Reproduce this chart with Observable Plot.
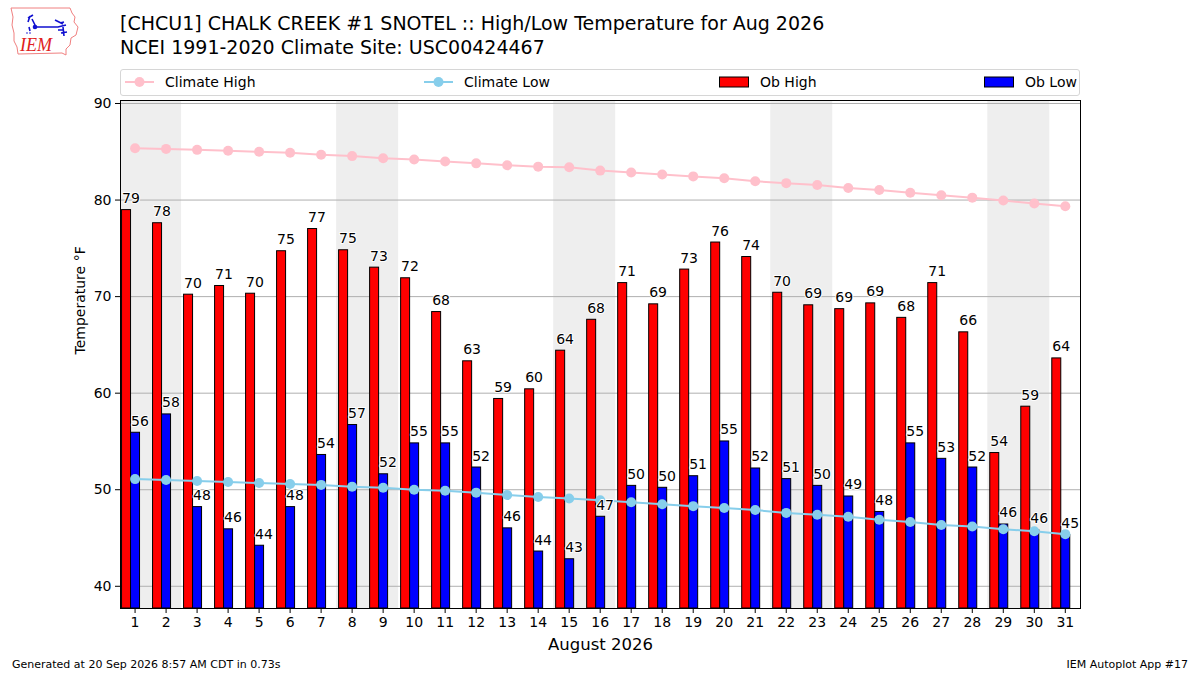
<!DOCTYPE html>
<html>
<head>
<meta charset="utf-8">
<script src="https://cdn.jsdelivr.net/npm/d3@7"></script>
<script src="https://cdn.jsdelivr.net/npm/@observablehq/plot@0.6"></script>
<style>
  html, body { margin:0; padding:0; background:#fff; }
  body { width:1200px; height:675px; position:relative; overflow:hidden; font-family:"DejaVu Sans", sans-serif; color:#000; }
  .abs { position:absolute; white-space:nowrap; }
  #title { left:120px; top:11px; font-size:19px; line-height:24px; }
  #legend { left:120px; top:69px; width:958px; height:25px; border:1px solid #d6d6d6; border-radius:3px; }
  .li { position:absolute; top:-1px; height:25px; display:flex; align-items:center; font-size:14px; }
  .li svg { margin-right:11px; }
  #chart { left:0; top:96px; }
  #foot1 { left:12px; top:658px; font-size:11px; }
  #foot2 { right:12px; top:658px; font-size:11px; }
</style>
</head>
<body>
<div class="abs" style="left:8px;top:5px;">
  <svg width="74" height="54" viewBox="0 0 74 54">
    <path d="M3,3 L62,3 L64,8 L67,12 L66,17 L70,22 L68,30 L63,33 L62,40 L58,44 L58,50 L54,48 L10,49 L9,42 L6,36 L6,28 L4,20 L5,12 Z" fill="none" stroke="#f08080" stroke-width="1"/>
    <path d="M22,11 L20,17 M20,13 L25,10 M24,14 L28,22 L50,22 L58,20 M52,18 L56,17 M47,15 L55,19 M50,25 L56,25 M55,22 L56,31 M53,28 L59,27 M21,22 L22,26" stroke="#1010d0" stroke-width="1.6" fill="none"/>
    <circle cx="27" cy="22" r="2.3" fill="#1010d0"/>
    <circle cx="19" cy="28" r="0.8" fill="#1010d0"/><circle cx="22" cy="28" r="0.8" fill="#1010d0"/>
    <text x="12" y="46" font-family="Liberation Serif, serif" font-style="italic" font-size="18" fill="#e02020">IEM</text>
  </svg>
</div>
<div id="title" class="abs">[CHCU1] CHALK CREEK #1 SNOTEL :: High/Low Temperature for Aug 2026<br>NCEI 1991-2020 Climate Site: USC00424467</div>
<div id="legend" class="abs">
  <div class="li" style="left:4px;"><svg width="29" height="12"><line x1="0" y1="6" x2="29" y2="6" stroke="pink" stroke-width="2"/><circle cx="14.5" cy="6" r="5" fill="pink"/></svg>Climate High</div>
  <div class="li" style="left:303px;"><svg width="29" height="12"><line x1="0" y1="6" x2="29" y2="6" stroke="skyblue" stroke-width="2"/><circle cx="14.5" cy="6" r="5" fill="skyblue"/></svg>Climate Low</div>
  <div class="li" style="left:598px;"><svg width="30" height="12"><rect x="0.5" y="1" width="29" height="10" fill="red" stroke="black" stroke-width="1"/></svg>Ob High</div>
  <div class="li" style="left:863px;"><svg width="30" height="12"><rect x="0.5" y="1" width="29" height="10" fill="blue" stroke="black" stroke-width="1"/></svg>Ob Low</div>
</div>
<div id="chart" class="abs"></div>
<div id="foot1" class="abs">Generated at 20 Sep 2026 8:57 AM CDT in 0.73s</div>
<div id="foot2" class="abs">IEM Autoplot App #17</div>
<script>
const days = d3.range(1, 32);
const obHigh = [78.96, 77.6, 70.2, 71.1, 70.3, 74.7, 77.0, 74.8, 73.0, 71.9, 68.4, 63.3, 59.4, 60.4, 64.4, 67.6, 71.4, 69.2, 72.8, 75.6, 74.1, 70.4, 69.1, 68.7, 69.3, 67.8, 71.4, 66.3, 53.8, 58.6, 63.6];
const obLow = [55.9, 57.8, 48.2, 45.9, 44.2, 48.2, 53.6, 56.7, 51.6, 54.8, 54.8, 52.3, 46.0, 43.6, 42.8, 47.2, 50.4, 50.2, 51.4, 55.0, 52.2, 51.1, 50.4, 49.3, 47.7, 54.8, 53.2, 52.3, 46.4, 45.8, 45.3];
const climHigh = [85.37, 85.3, 85.2, 85.1, 85.0, 84.9, 84.7, 84.55, 84.33, 84.2, 84.0, 83.8, 83.6, 83.46, 83.4, 83.05, 82.85, 82.65, 82.45, 82.25, 81.95, 81.75, 81.55, 81.25, 81.05, 80.75, 80.5, 80.25, 79.95, 79.65, 79.35];
const climLow = [51.1, 51.0, 50.9, 50.8, 50.7, 50.6, 50.5, 50.3, 50.2, 50.0, 49.9, 49.7, 49.45, 49.25, 49.1, 48.9, 48.7, 48.5, 48.3, 48.1, 47.9, 47.6, 47.4, 47.2, 46.9, 46.65, 46.35, 46.2, 45.9, 45.7, 45.4];
const weekendStarts = [1, 8, 15, 22, 29];
const yTicks = [40, 50, 60, 70, 80, 90];
const xLabel = "August 2026";
const yLabel = "Temperature °F";

const yMin = 37.7, yMax = 90.31;
const highs = days.map((d, i) => ({day: d, v: obHigh[i]}));
const lows = days.map((d, i) => ({day: d, v: obLow[i]}));
const cHigh = days.map((d, i) => ({day: d, v: climHigh[i]}));
const cLow = days.map((d, i) => ({day: d, v: climLow[i]}));

const chart = Plot.plot({
  width: 1200,
  height: 560,
  marginLeft: 120,
  marginRight: 120,
  marginTop: 4,
  marginBottom: 48,
  x: {domain: [0.53, 31.49]},
  y: {domain: [yMin, yMax]},
  style: {fontFamily: "DejaVu Sans, sans-serif", fontSize: "14px", color: "#000", background: "#fff"},
  marks: [
    Plot.rect(weekendStarts, {x1: d => d - 0.5, x2: d => d + 1.5, y1: yMin, y2: yMax, fill: "#eeeeee", clip: true}),
    Plot.gridY(yTicks, {stroke: "#b0b0b0", strokeOpacity: 1, strokeWidth: 1}),
    Plot.rect(highs, {x1: d => d.day - 0.42, x2: d => d.day - 0.13, y1: yMin, y2: "v", fill: "red", stroke: "black", strokeWidth: 1, clip: true}),
    Plot.rect(lows, {x1: d => d.day - 0.13, x2: d => d.day + 0.16, y1: yMin, y2: "v", fill: "blue", stroke: "black", strokeWidth: 1, clip: true}),
    Plot.line(cHigh, {x: "day", y: "v", stroke: "pink", strokeWidth: 2}),
    Plot.dot(cHigh, {x: "day", y: "v", r: 5, fill: "pink"}),
    Plot.line(cLow, {x: "day", y: "v", stroke: "skyblue", strokeWidth: 2}),
    Plot.dot(cLow, {x: "day", y: "v", r: 5, fill: "skyblue"}),
    Plot.text(highs, {x: d => d.day - 0.42, y: "v", text: d => String(Math.round(d.v)), textAnchor: "start", lineAnchor: "bottom", dy: -7, fontSize: 14, fill: "black", stroke: "white", strokeWidth: 2}),
    Plot.text(lows, {x: d => d.day - 0.13, y: "v", text: d => String(Math.round(d.v)), textAnchor: "start", lineAnchor: "bottom", dy: -7, fontSize: 14, fill: "black", stroke: "white", strokeWidth: 2}),
    Plot.frame({stroke: "black", strokeWidth: 1}),
    Plot.axisX({ticks: days, tickFormat: d => String(d), tickSize: 5, tickPadding: 4, fontSize: 14, label: null}),
    Plot.axisY({ticks: yTicks, tickFormat: d => String(d), tickSize: 5, tickPadding: 4, fontSize: 14, label: null}),
    Plot.text([xLabel], {frameAnchor: "bottom", dy: 36, fontSize: 16.5, lineAnchor: "middle", fill: "black"}),
    Plot.text([yLabel], {frameAnchor: "left", dx: -40, rotate: -90, fontSize: 14, lineAnchor: "middle", fill: "black"})
  ]
});
document.getElementById("chart").appendChild(chart);
</script>
</body>
</html>
